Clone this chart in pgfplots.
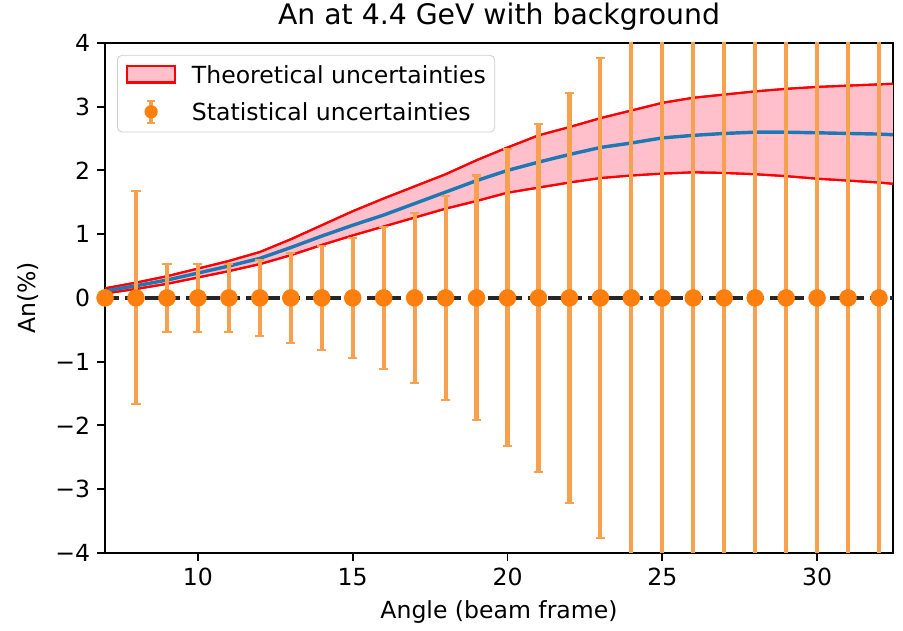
\documentclass[border=0pt]{standalone}
\usepackage{fontspec}
\setmainfont{DejaVu Sans}
\usepackage{pgfplots}
\pgfplotsset{compat=1.18}
\usepgfplotslibrary{fillbetween}
\definecolor{mplblue}{HTML}{1F77B4}
\definecolor{mplorange}{HTML}{FF7F0E}
\definecolor{mplpink}{HTML}{FFC0CB}
\definecolor{barorange}{HTML}{F7A14F}
\pgfplotsset{
  bandlegend/.style={legend image code/.code={
    \draw[sharp corners, fill=mplpink, draw=red, line width=1.1pt] (0pt,-4.3pt) rectangle (25pt,4.3pt);
    \path[draw=none, fill=none] (0pt,0pt) -- (34pt,0pt);
  }},
  errlegend/.style={legend image code/.code={
    \draw[sharp corners, draw=barorange, line width=2.2pt] (12.5pt,-5.8pt) -- (12.5pt,5.8pt);
    \draw[sharp corners, draw=barorange, line width=1.1pt] (10.3pt,-5.8pt) -- (14.7pt,-5.8pt);
    \draw[sharp corners, draw=barorange, line width=1.1pt] (10.3pt,5.8pt) -- (14.7pt,5.8pt);
    \path[draw=none, fill=mplorange] (12.5pt,0pt) circle[radius=3.5pt];
    \path[draw=none, fill=none] (0pt,0pt) -- (34pt,0pt);
  }},
}
\begin{document}
\begin{tikzpicture}
\begin{axis}[
  scale only axis,
  width=414.7pt, height=268.4pt,
  xmin=7, xmax=32.45, ymin=-4, ymax=4,
  xtick={10,15,20,25,30},
  ytick={-4,-3,-2,-1,0,1,2,3,4},
  yticklabels={−4,−3,−2,−1,0,1,2,3,4},
  /pgf/number format/assume math mode=true,
  tick pos=left, tick align=outside,
  major tick length=4.4pt,
  every tick/.style={black, line width=1pt},
  axis line style={line width=1pt},
  ticklabel style={font=\fontsize{12.4}{14}\selectfont},
  label style={font=\fontsize{12.4}{14}\selectfont},
  xlabel style={yshift=-1pt},
  ylabel style={yshift=2pt},
  title style={font=\fontsize{14.9}{17}\selectfont, yshift=-3pt},
  title={An at 4.4 GeV with background},
  xlabel={Angle (beam frame)},
  ylabel={An(\%)},
  legend style={at={(0.0152,0.9765)}, anchor=north west, draw=black!20, rounded corners=2.5pt,
    font=\fontsize{12.4}{14}\selectfont, inner xsep=4.7pt, inner ysep=3.8pt, row sep=6.6pt,
    nodes={inner xsep=0pt, inner ysep=1.5pt, text depth=0pt}},
  legend cell align=left,
]
\addlegendimage{bandlegend}
\addlegendentry{Theoretical uncertainties\hspace{3pt}}
\addlegendimage{errlegend}
\addlegendentry{Statistical uncertainties}

\addplot[name path=U, red, line width=1.1pt, forget plot] coordinates {
(7,0.15) (8,0.24) (9,0.34) (10,0.46) (11,0.58) (12,0.72) (13,0.92) (14,1.14) (15,1.36)
(16,1.56) (17,1.75) (18,1.94) (19,2.16) (20,2.36) (21,2.55) (22,2.68) (23,2.82) (24,2.94)
(25,3.06) (26,3.14) (27,3.19) (28,3.24) (29,3.28) (30,3.31) (31,3.33) (32,3.35) (32.45,3.36)};
\addplot[name path=L, red, line width=1.1pt, forget plot] coordinates {
(7,0.07) (8,0.14) (9,0.22) (10,0.32) (11,0.42) (12,0.53) (13,0.67) (14,0.83) (15,0.98)
(16,1.12) (17,1.26) (18,1.40) (19,1.52) (20,1.65) (21,1.73) (22,1.81) (23,1.88) (24,1.92)
(25,1.95) (26,1.97) (27,1.96) (28,1.94) (29,1.91) (30,1.87) (31,1.84) (32,1.81) (32.45,1.79)};
\addplot[mplpink, forget plot] fill between[of=U and L];
\addplot[red, line width=1.1pt, forget plot] coordinates {
(7,0.15) (8,0.24) (9,0.34) (10,0.46) (11,0.58) (12,0.72) (13,0.92) (14,1.14) (15,1.36)
(16,1.56) (17,1.75) (18,1.94) (19,2.16) (20,2.36) (21,2.55) (22,2.68) (23,2.82) (24,2.94)
(25,3.06) (26,3.14) (27,3.19) (28,3.24) (29,3.28) (30,3.31) (31,3.33) (32,3.35) (32.45,3.36)};
\addplot[red, line width=1.1pt, forget plot] coordinates {
(7,0.07) (8,0.14) (9,0.22) (10,0.32) (11,0.42) (12,0.53) (13,0.67) (14,0.83) (15,0.98)
(16,1.12) (17,1.26) (18,1.40) (19,1.52) (20,1.65) (21,1.73) (22,1.81) (23,1.88) (24,1.92)
(25,1.95) (26,1.97) (27,1.96) (28,1.94) (29,1.91) (30,1.87) (31,1.84) (32,1.81) (32.45,1.79)};
\addplot[mplblue, line width=1.8pt, forget plot] coordinates {
(7,0.11) (8,0.19) (9,0.28) (10,0.39) (11,0.50) (12,0.62) (13,0.79) (14,0.97) (15,1.14)
(16,1.30) (17,1.48) (18,1.66) (19,1.84) (20,2.00) (21,2.13) (22,2.25) (23,2.36) (24,2.43)
(25,2.51) (26,2.55) (27,2.58) (28,2.60) (29,2.60) (30,2.59) (31,2.58) (32,2.57) (32.45,2.56)};

\addplot[black!85, line width=2.2pt, dash pattern=on 7.4pt off 3.2pt, forget plot] coordinates {(7,0) (32.45,0)};

\addplot[only marks, mark=*, mark size=4.4pt, mark options={mplorange, fill=mplorange},
  forget plot,
  error bars/.cd, y dir=both, y explicit,
  error bar style={barorange, line width=2.2pt},
  error mark options={barorange, line width=1.1pt, mark size=2.4pt, rotate=90}]
coordinates {
(7,0) +- (0,0)
(8,0) +- (0,1.67)
(9,0) +- (0,0.53)
(10,0) +- (0,0.53)
(11,0) +- (0,0.53)
(12,0) +- (0,0.60)
(13,0) +- (0,0.71)
(14,0) +- (0,0.82)
(15,0) +- (0,0.94)
(16,0) +- (0,1.11)
(17,0) +- (0,1.33)
(18,0) +- (0,1.60)
(19,0) +- (0,1.92)
(20,0) +- (0,2.33)
(21,0) +- (0,2.73)
(22,0) +- (0,3.22)
(23,0) +- (0,3.77)
(24,0) +- (0,4.4)
(25,0) +- (0,5.1)
(26,0) +- (0,5.9)
(27,0) +- (0,6.8)
(28,0) +- (0,7.8)
(29,0) +- (0,9.0)
(30,0) +- (0,10.3)
(31,0) +- (0,11.8)
(32,0) +- (0,13.5)
};
\end{axis}
\pgfresetboundingbox
\path (current axis.south west) ++(-55.3pt,-41pt) rectangle ([shift={(5.3pt,22.6pt)}]current axis.north east);
\end{tikzpicture}
\end{document}
